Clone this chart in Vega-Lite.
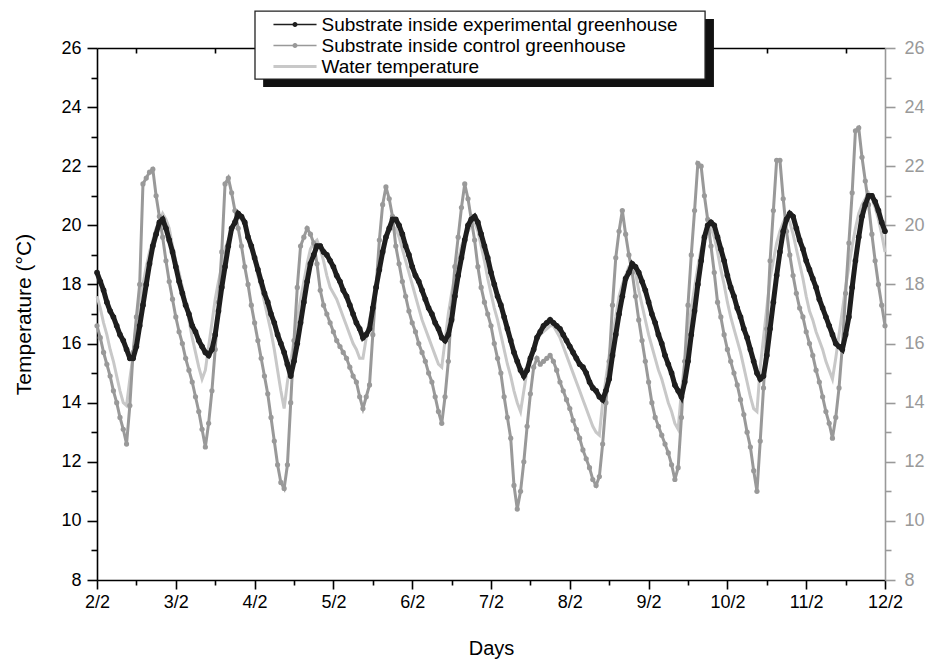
{
"$schema": "https://vega.github.io/schema/vega-lite/v6.json",
"width": 788, "height": 532,
"autosize": "none",
"padding": {"left": 97, "top": 48, "right": 46, "bottom": 85},
"background": "white",
"config": {"view": {"stroke": null}, "font": "Liberation Sans", "axis": {"labelFont": "Liberation Sans", "titleFont": "Liberation Sans", "grid": false, "zindex": 0}},
"datasets": {"d": [
{"t":0,"e":18.4,"c":16.6,"w":17.6},{"t":1,"e":18.1,"c":16.2,"w":17.2},{"t":2,"e":17.8,"c":15.7,"w":16.7},{"t":3,"e":17.4,"c":15.3,"w":16.3},{"t":4,"e":17.1,"c":14.9,"w":15.8},{"t":5,"e":16.9,"c":14.4,"w":15.4},{"t":6,"e":16.6,"c":14.0,"w":14.9},{"t":7,"e":16.3,"c":13.5,"w":14.4},{"t":8,"e":16.1,"c":13.1,"w":14.0},{"t":9,"e":15.8,"c":12.6,"w":13.9},
{"t":10,"e":15.5,"c":13.9,"w":14.8},{"t":11,"e":15.5,"c":15.7,"w":15.6},{"t":12,"e":15.9,"c":16.9,"w":16.7},{"t":13,"e":16.6,"c":18.0,"w":17.4},{"t":14,"e":17.3,"c":21.4,"w":18.0},{"t":15,"e":18.0,"c":21.6,"w":18.6},{"t":16,"e":18.7,"c":21.8,"w":19.1},{"t":17,"e":19.3,"c":21.9,"w":19.5},{"t":18,"e":19.7,"c":21.0,"w":19.9},{"t":19,"e":20.1,"c":20.3,"w":20.1},
{"t":20,"e":20.2,"c":19.6,"w":20.4},{"t":21,"e":19.9,"c":18.8,"w":20.2},{"t":22,"e":19.5,"c":18.1,"w":19.9},{"t":23,"e":19.1,"c":17.5,"w":19.3},{"t":24,"e":18.6,"c":16.9,"w":18.8},{"t":25,"e":18.1,"c":16.4,"w":18.4},{"t":26,"e":17.7,"c":16.0,"w":17.9},{"t":27,"e":17.3,"c":15.5,"w":17.4},{"t":28,"e":17.0,"c":15.1,"w":16.8},{"t":29,"e":16.6,"c":14.7,"w":16.2},
{"t":30,"e":16.4,"c":14.2,"w":15.7},{"t":31,"e":16.1,"c":13.7,"w":15.2},{"t":32,"e":15.9,"c":13.1,"w":14.8},{"t":33,"e":15.7,"c":12.5,"w":15.1},{"t":34,"e":15.6,"c":13.3,"w":15.9},{"t":35,"e":15.8,"c":14.4,"w":16.7},{"t":36,"e":16.3,"c":15.8,"w":17.5},{"t":37,"e":17.1,"c":17.4,"w":18.1},{"t":38,"e":17.9,"c":19.1,"w":18.6},{"t":39,"e":18.6,"c":21.4,"w":19.2},
{"t":40,"e":19.3,"c":21.6,"w":19.5},{"t":41,"e":19.9,"c":21.1,"w":19.8},{"t":42,"e":20.1,"c":20.5,"w":20.1},{"t":43,"e":20.4,"c":19.9,"w":20.3},{"t":44,"e":20.3,"c":19.3,"w":20.2},{"t":45,"e":20.1,"c":18.6,"w":20.0},{"t":46,"e":19.6,"c":18.0,"w":19.6},{"t":47,"e":19.3,"c":17.3,"w":19.2},{"t":48,"e":18.9,"c":16.7,"w":18.8},{"t":49,"e":18.5,"c":16.1,"w":18.3},
{"t":50,"e":18.1,"c":15.5,"w":17.9},{"t":51,"e":17.7,"c":14.9,"w":17.4},{"t":52,"e":17.4,"c":14.3,"w":16.9},{"t":53,"e":17.0,"c":13.5,"w":16.4},{"t":54,"e":16.7,"c":12.7,"w":15.8},{"t":55,"e":16.3,"c":11.9,"w":15.1},{"t":56,"e":16.0,"c":11.3,"w":14.4},{"t":57,"e":15.7,"c":11.1,"w":13.8},{"t":58,"e":15.3,"c":11.9,"w":14.7},{"t":59,"e":14.9,"c":14.0,"w":15.4},
{"t":60,"e":15.4,"c":16.1,"w":16.1},{"t":61,"e":16.0,"c":17.9,"w":16.8},{"t":62,"e":16.7,"c":19.3,"w":17.5},{"t":63,"e":17.4,"c":19.6,"w":18.1},{"t":64,"e":18.1,"c":19.9,"w":18.7},{"t":65,"e":18.7,"c":19.7,"w":19.2},{"t":66,"e":19.0,"c":19.4,"w":19.4},{"t":67,"e":19.3,"c":18.7,"w":19.5},{"t":68,"e":19.3,"c":17.8,"w":19.2},{"t":69,"e":19.1,"c":17.3,"w":18.8},
{"t":70,"e":19.0,"c":17.0,"w":18.3},{"t":71,"e":18.8,"c":16.7,"w":17.9},{"t":72,"e":18.6,"c":16.4,"w":17.7},{"t":73,"e":18.3,"c":16.1,"w":17.5},{"t":74,"e":18.1,"c":15.9,"w":17.2},{"t":75,"e":17.8,"c":15.7,"w":16.9},{"t":76,"e":17.6,"c":15.5,"w":16.6},{"t":77,"e":17.3,"c":15.2,"w":16.3},{"t":78,"e":17.0,"c":14.9,"w":16.0},{"t":79,"e":16.7,"c":14.7,"w":15.8},
{"t":80,"e":16.5,"c":14.2,"w":15.5},{"t":81,"e":16.2,"c":13.8,"w":15.5},{"t":82,"e":16.3,"c":14.2,"w":16.2},{"t":83,"e":16.5,"c":14.6,"w":16.8},{"t":84,"e":17.2,"c":16.3,"w":17.3},{"t":85,"e":17.9,"c":17.9,"w":17.9},{"t":86,"e":18.5,"c":19.5,"w":18.5},{"t":87,"e":19.1,"c":20.7,"w":19.1},{"t":88,"e":19.6,"c":21.3,"w":19.6},{"t":89,"e":19.9,"c":20.9,"w":19.8},
{"t":90,"e":20.2,"c":20.3,"w":19.9},{"t":91,"e":20.2,"c":19.3,"w":19.9},{"t":92,"e":20.0,"c":18.7,"w":19.6},{"t":93,"e":19.7,"c":18.1,"w":19.2},{"t":94,"e":19.3,"c":17.6,"w":18.8},{"t":95,"e":19.0,"c":17.1,"w":18.4},{"t":96,"e":18.6,"c":16.7,"w":18.0},{"t":97,"e":18.3,"c":16.4,"w":17.6},{"t":98,"e":18.1,"c":16.0,"w":17.2},{"t":99,"e":17.8,"c":15.7,"w":16.8},
{"t":100,"e":17.5,"c":15.4,"w":16.5},{"t":101,"e":17.2,"c":15.0,"w":16.2},{"t":102,"e":17.0,"c":14.7,"w":15.9},{"t":103,"e":16.7,"c":14.2,"w":15.6},{"t":104,"e":16.5,"c":13.7,"w":15.3},{"t":105,"e":16.2,"c":13.3,"w":15.2},{"t":106,"e":16.1,"c":14.2,"w":16.1},{"t":107,"e":16.3,"c":15.4,"w":17.0},{"t":108,"e":16.8,"c":17.2,"w":17.7},{"t":109,"e":17.6,"c":18.6,"w":18.3},
{"t":110,"e":18.3,"c":19.6,"w":18.8},{"t":111,"e":18.9,"c":20.6,"w":19.3},{"t":112,"e":19.5,"c":21.4,"w":19.6},{"t":113,"e":20.0,"c":20.9,"w":19.8},{"t":114,"e":20.2,"c":20.2,"w":20.0},{"t":115,"e":20.3,"c":19.5,"w":20.1},{"t":116,"e":20.1,"c":18.6,"w":19.8},{"t":117,"e":19.7,"c":17.9,"w":19.3},{"t":118,"e":19.3,"c":17.4,"w":18.8},{"t":119,"e":18.9,"c":17.0,"w":18.2},
{"t":120,"e":18.4,"c":16.6,"w":17.7},{"t":121,"e":18.0,"c":16.0,"w":17.2},{"t":122,"e":17.6,"c":15.5,"w":16.8},{"t":123,"e":17.3,"c":15.0,"w":16.3},{"t":124,"e":16.9,"c":14.2,"w":15.8},{"t":125,"e":16.5,"c":13.5,"w":15.3},{"t":126,"e":16.1,"c":12.8,"w":14.9},{"t":127,"e":15.7,"c":11.2,"w":14.4},{"t":128,"e":15.4,"c":10.4,"w":14.0},{"t":129,"e":15.1,"c":11.0,"w":13.7},
{"t":130,"e":14.9,"c":12.0,"w":14.4},{"t":131,"e":15.1,"c":13.2,"w":15.1},{"t":132,"e":15.5,"c":14.3,"w":15.6},{"t":133,"e":15.8,"c":15.2,"w":15.9},{"t":134,"e":16.2,"c":15.5,"w":16.1},{"t":135,"e":16.4,"c":15.3,"w":16.3},{"t":136,"e":16.6,"c":15.4,"w":16.4},{"t":137,"e":16.7,"c":15.5,"w":16.5},{"t":138,"e":16.8,"c":15.6,"w":16.6},{"t":139,"e":16.7,"c":15.4,"w":16.6},
{"t":140,"e":16.6,"c":15.1,"w":16.4},{"t":141,"e":16.5,"c":14.7,"w":16.2},{"t":142,"e":16.3,"c":14.4,"w":15.9},{"t":143,"e":16.1,"c":14.1,"w":15.6},{"t":144,"e":15.9,"c":13.8,"w":15.3},{"t":145,"e":15.7,"c":13.4,"w":15.0},{"t":146,"e":15.5,"c":13.1,"w":14.7},{"t":147,"e":15.3,"c":12.8,"w":14.4},{"t":148,"e":15.2,"c":12.4,"w":14.1},{"t":149,"e":15.0,"c":12.1,"w":13.8},
{"t":150,"e":14.7,"c":11.8,"w":13.5},{"t":151,"e":14.5,"c":11.4,"w":13.2},{"t":152,"e":14.4,"c":11.2,"w":13.0},{"t":153,"e":14.2,"c":11.5,"w":12.9},{"t":154,"e":14.1,"c":12.6,"w":14.0},{"t":155,"e":14.4,"c":14.0,"w":14.8},{"t":156,"e":14.8,"c":15.4,"w":15.6},{"t":157,"e":15.6,"c":17.3,"w":16.3},{"t":158,"e":16.3,"c":18.9,"w":16.9},{"t":159,"e":17.0,"c":19.8,"w":17.6},
{"t":160,"e":17.6,"c":20.5,"w":18.0},{"t":161,"e":18.2,"c":19.7,"w":18.3},{"t":162,"e":18.4,"c":19.0,"w":18.6},{"t":163,"e":18.7,"c":18.4,"w":18.7},{"t":164,"e":18.6,"c":17.6,"w":18.4},{"t":165,"e":18.4,"c":16.8,"w":17.8},{"t":166,"e":18.1,"c":16.1,"w":17.3},{"t":167,"e":17.8,"c":15.4,"w":16.8},{"t":168,"e":17.4,"c":14.7,"w":16.3},{"t":169,"e":17.0,"c":14.0,"w":15.9},
{"t":170,"e":16.7,"c":13.5,"w":15.5},{"t":171,"e":16.3,"c":13.2,"w":15.1},{"t":172,"e":16.0,"c":12.9,"w":14.8},{"t":173,"e":15.6,"c":12.6,"w":14.4},{"t":174,"e":15.3,"c":12.3,"w":14.0},{"t":175,"e":15.0,"c":11.9,"w":13.7},{"t":176,"e":14.6,"c":11.4,"w":13.3},{"t":177,"e":14.4,"c":11.8,"w":13.1},{"t":178,"e":14.2,"c":13.5,"w":14.4},{"t":179,"e":14.7,"c":15.4,"w":15.4},
{"t":180,"e":15.4,"c":17.3,"w":16.3},{"t":181,"e":16.3,"c":19.0,"w":17.2},{"t":182,"e":17.1,"c":20.5,"w":17.9},{"t":183,"e":18.0,"c":22.1,"w":18.6},{"t":184,"e":18.8,"c":22.0,"w":19.2},{"t":185,"e":19.6,"c":21.0,"w":19.5},{"t":186,"e":20.0,"c":20.2,"w":19.8},{"t":187,"e":20.1,"c":19.3,"w":19.9},{"t":188,"e":20.0,"c":18.4,"w":19.6},{"t":189,"e":19.6,"c":17.4,"w":19.1},
{"t":190,"e":19.2,"c":16.9,"w":18.5},{"t":191,"e":18.8,"c":16.3,"w":18.0},{"t":192,"e":18.3,"c":15.8,"w":17.4},{"t":193,"e":17.9,"c":15.4,"w":16.9},{"t":194,"e":17.6,"c":15.0,"w":16.5},{"t":195,"e":17.2,"c":14.6,"w":16.1},{"t":196,"e":16.9,"c":14.1,"w":15.7},{"t":197,"e":16.5,"c":13.6,"w":15.2},{"t":198,"e":16.2,"c":13.0,"w":14.7},{"t":199,"e":15.8,"c":12.5,"w":14.2},
{"t":200,"e":15.4,"c":11.7,"w":13.8},{"t":201,"e":15.0,"c":11.0,"w":13.7},{"t":202,"e":14.8,"c":12.7,"w":15.2},{"t":203,"e":14.9,"c":14.5,"w":16.2},{"t":204,"e":15.6,"c":16.5,"w":17.2},{"t":205,"e":16.5,"c":18.8,"w":18.2},{"t":206,"e":17.4,"c":20.5,"w":18.8},{"t":207,"e":18.3,"c":22.2,"w":19.4},{"t":208,"e":19.1,"c":22.2,"w":19.8},{"t":209,"e":19.8,"c":20.9,"w":20.1},
{"t":210,"e":20.2,"c":19.8,"w":20.3},{"t":211,"e":20.4,"c":19.0,"w":20.1},{"t":212,"e":20.3,"c":18.3,"w":19.7},{"t":213,"e":19.9,"c":17.7,"w":19.2},{"t":214,"e":19.5,"c":17.2,"w":18.7},{"t":215,"e":19.2,"c":16.9,"w":18.2},{"t":216,"e":18.8,"c":16.4,"w":17.6},{"t":217,"e":18.5,"c":16.0,"w":17.1},{"t":218,"e":18.2,"c":15.6,"w":16.8},{"t":219,"e":17.9,"c":15.1,"w":16.4},
{"t":220,"e":17.5,"c":14.7,"w":16.1},{"t":221,"e":17.2,"c":14.2,"w":15.8},{"t":222,"e":16.9,"c":13.7,"w":15.4},{"t":223,"e":16.6,"c":13.3,"w":15.1},{"t":224,"e":16.3,"c":12.8,"w":14.8},{"t":225,"e":16.0,"c":13.5,"w":15.5},{"t":226,"e":15.9,"c":14.5,"w":16.3},{"t":227,"e":15.8,"c":15.9,"w":17.1},{"t":228,"e":16.3,"c":17.7,"w":17.9},{"t":229,"e":16.9,"c":19.4,"w":18.6},
{"t":230,"e":17.9,"c":21.1,"w":19.3},{"t":231,"e":18.8,"c":23.2,"w":19.9},{"t":232,"e":19.6,"c":23.3,"w":20.4},{"t":233,"e":20.3,"c":22.3,"w":20.7},{"t":234,"e":20.7,"c":21.5,"w":20.9},{"t":235,"e":21.0,"c":20.7,"w":21.1},{"t":236,"e":21.0,"c":19.7,"w":20.9},{"t":237,"e":20.8,"c":18.8,"w":20.6},{"t":238,"e":20.5,"c":18.0,"w":20.2},{"t":239,"e":20.1,"c":17.3,"w":19.7},
{"t":240,"e":19.8,"c":16.6,"w":19.1}
]},
"data": {"name": "d"},
"resolve": {"axis": {"x": "independent", "y": "independent"}},
"layer": [
{"data": {"values": [{}]},
 "mark": {"type": "rect", "fill": "#111111", "clip": false},
 "encoding": {
  "x": {"datum": 50.6, "type": "quantitative", "scale": {"domain": [0, 240], "nice": false, "zero": false}, "axis": null},
  "x2": {"datum": 187.9},
  "y": {"datum": 26.98, "type": "quantitative", "scale": {"domain": [8, 26], "nice": false, "zero": false}, "axis": null},
  "y2": {"datum": 24.68}}},
{"data": {"values": [{}]},
 "mark": {"type": "rect", "fill": "white", "stroke": "#222222", "strokeWidth": 1.3, "clip": false},
 "encoding": {
  "x": {"datum": 48.12, "type": "quantitative", "scale": {"domain": [0, 240], "nice": false, "zero": false}, "axis": null},
  "x2": {"datum": 185.2},
  "y": {"datum": 27.25, "type": "quantitative", "scale": {"domain": [8, 26], "nice": false, "zero": false}, "axis": null},
  "y2": {"datum": 24.95}}},
{"mark": {"type": "line", "strokeWidth": 3},
 "encoding": {
  "x": {"field": "t", "type": "quantitative", "scale": {"domain": [0, 240], "nice": false, "zero": false},
        "axis": {"orient": "bottom", "values": [0,24,48,72,96,120,144,168,192,216,240], "labelExpr": "(datum.value/24+2) + '/2'", "title": "Days", "titleFontSize": 20, "titleFontWeight": "normal", "titleColor": "black", "titlePadding": 27, "labelFontSize": 18, "labelColor": "black", "labelPadding": 4, "tickSize": 9, "tickColor": "black", "tickWidth": 1.6, "domainColor": "black", "domainWidth": 1.6, "labelFlush": false, "labelOverlap": false, "zindex": 0}},
  "y": {"field": "w", "type": "quantitative", "scale": {"domain": [8, 26], "nice": false, "zero": false},
        "axis": {"orient": "left", "values": [8,10,12,14,16,18,20,22,24,26], "title": "Temperature (°C)", "titleFontSize": 21, "titleFontWeight": "normal", "titleColor": "black", "titlePadding": 26, "labelFontSize": 18, "labelColor": "black", "labelPadding": 6, "tickSize": 10, "tickColor": "black", "tickWidth": 1.6, "domainColor": "black", "domainWidth": 1.6, "labelOverlap": false, "zindex": 0}},
  "color": {"datum": "Water temperature", "type": "nominal",
    "scale": {"domain": ["Substrate inside experimental greenhouse", "Substrate inside control greenhouse", "Water temperature"], "range": ["#1e1e1e", "#999999", "#c8c8c8"]},
    "legend": {"title": null, "orient": "none", "legendX": 173, "legendY": -33, "padding": 0, "labelFont": "Liberation Sans", "labelFontSize": 19, "labelColor": "black", "labelLimit": 600, "symbolSize": 116, "symbolOffset": 15.5, "labelOffset": 17, "rowPadding": 1, "symbolOpacity": 1,
      "symbolType": {"expr": "datum.value === 'Water temperature' ? 'M-4,0H4' : 'M-4,0H4M0.35,0A0.35,0.35,0,1,1,-0.35,0A0.35,0.35,0,1,1,0.35,0'"},
      "symbolFillColor": {"expr": "datum.value === 'Water temperature' ? 'transparent' : (datum.value === 'Substrate inside control greenhouse' ? '#999999' : '#1e1e1e')"},
      "symbolStrokeColor": {"expr": "datum.value === 'Water temperature' ? '#c8c8c8' : (datum.value === 'Substrate inside control greenhouse' ? '#999999' : '#1e1e1e')"},
      "symbolStrokeWidth": {"expr": "datum.value === 'Water temperature' ? 3 : 1.3"}}}}},
{"mark": {"type": "line", "strokeWidth": 3},
 "encoding": {
  "x": {"field": "t", "type": "quantitative", "scale": {"domain": [0, 240], "nice": false, "zero": false},
        "axis": {"orient": "bottom", "values": [12,36,60,84,108,132,156,180,204,228], "labels": false, "domain": false, "title": null, "tickSize": 5, "tickColor": "black", "tickWidth": 1.6, "zindex": 0}},
  "y": {"field": "c", "type": "quantitative", "scale": {"domain": [8, 26], "nice": false, "zero": false},
        "axis": {"orient": "left", "values": [9,11,13,15,17,19,21,23,25], "labels": false, "domain": false, "title": null, "tickSize": 6, "tickColor": "black", "tickWidth": 1.6, "zindex": 0}},
  "color": {"datum": "Substrate inside control greenhouse", "type": "nominal"}}},
{"mark": {"type": "point", "filled": true, "size": 27, "opacity": 1},
 "encoding": {
  "x": {"field": "t", "type": "quantitative", "scale": {"domain": [0, 240], "nice": false, "zero": false},
        "axis": {"orient": "top", "values": [12,36,60,84,108,132,156,180,204,228], "labels": false, "title": null, "tickSize": -5, "tickColor": "black", "tickWidth": 1.6, "domainColor": "black", "domainWidth": 1.6, "zindex": 0}},
  "y": {"field": "c", "type": "quantitative", "scale": {"domain": [8, 26], "nice": false, "zero": false},
        "axis": {"orient": "right", "values": [8,10,12,14,16,18,20,22,24,26], "title": null, "labelFontSize": 18, "labelColor": "#999999", "labelPadding": 9, "tickSize": 10, "tickColor": "#999999", "tickWidth": 1.6, "domainColor": "#999999", "domainWidth": 1.6, "labelOverlap": false, "zindex": 0}},
  "color": {"datum": "Substrate inside control greenhouse", "type": "nominal"}}},
{"mark": {"type": "line", "strokeWidth": 5},
 "encoding": {
  "x": {"field": "t", "type": "quantitative", "scale": {"domain": [0, 240], "nice": false, "zero": false}, "axis": null},
  "y": {"field": "e", "type": "quantitative", "scale": {"domain": [8, 26], "nice": false, "zero": false},
        "axis": {"orient": "right", "values": [9,11,13,15,17,19,21,23,25], "labels": false, "domain": false, "title": null, "tickSize": 6, "tickColor": "#999999", "tickWidth": 1.6, "zindex": 0}},
  "color": {"datum": "Substrate inside experimental greenhouse", "type": "nominal"}}},
{"mark": {"type": "point", "filled": true, "size": 32, "opacity": 1},
 "encoding": {
  "x": {"field": "t", "type": "quantitative", "scale": {"domain": [0, 240], "nice": false, "zero": false}, "axis": null},
  "y": {"field": "e", "type": "quantitative", "scale": {"domain": [8, 26], "nice": false, "zero": false}, "axis": null},
  "color": {"datum": "Substrate inside experimental greenhouse", "type": "nominal"}}}
]
}
